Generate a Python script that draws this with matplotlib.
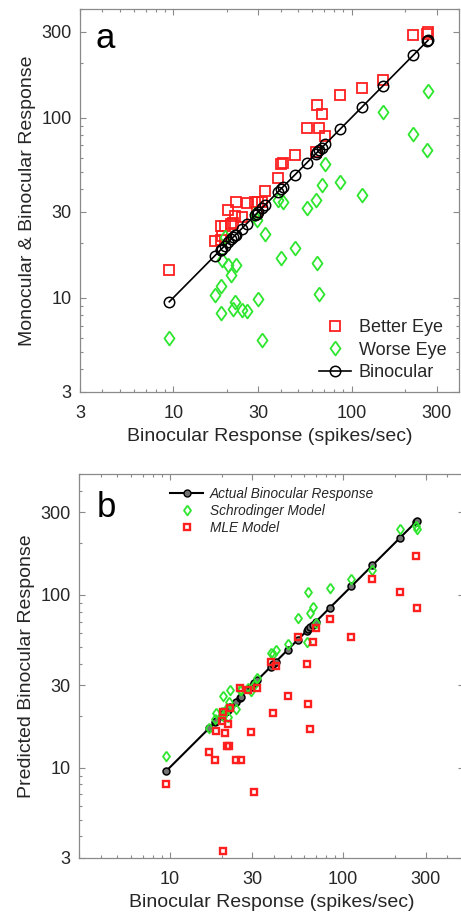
import matplotlib
matplotlib.use("Agg")
import matplotlib.pyplot as plt
import numpy as np
from matplotlib.lines import Line2D
from matplotlib.ticker import FixedLocator, LogLocator, NullFormatter

plt.rcParams['font.family'] = ['Liberation Sans', 'DejaVu Sans']

# panel a: binocular response of each cell and the two monocular responses
bino_a = [268, 265, 221, 150, 114, 86, 71, 68, 66, 64, 63, 56, 48, 41, 40, 38.8,
          32.7, 31.4, 30, 29.3, 28.7, 25.8, 24.2, 22.4, 22.2, 21.7, 21.1, 20.3,
          19.4, 18.7, 18.5, 18.5, 17.1, 9.5]
better_eye = [300, 291, 288, 161, 146, 133, 79, 104, 87, 117, 64, 88, 62, 56, 55, 46,
              39, 34, 34, 30, 34, 33.6, 28, 34, 28.5, 26, 25.8, 30.6,
              25, 22, 25, 21, 20.6, 14.2]
worse_eye = [140, 66, 81, 107, 37, 44, 55, 42, 10.5, 15.5, 35, 31.6, 18.8, 34, 16.6, 35,
             22.7, 5.8, 9.9, 27, 29, 8.4, 8.5, 15.2, 9.5, 8.7, 13.3, 15.2,
             21.7, 16.1, 11.6, 8.2, 10.4, 6.0]

# panel b: model predictions of the binocular response
bino_b = [264, 268, 214, 148, 112, 84, 70, 66.8, 65, 63, 62, 55, 48, 41, 39.6, 38.4,
          32.1, 30.7, 29.3, 28.5, 25.7, 25.4, 24.1, 22.3, 22, 21.6, 21.3, 21, 20.3,
          20.3, 20, 18.6, 18.4, 16.9, 9.5]
schrodinger = [249, 240, 241, 139, 124, 110, 69, 85, 78, 104, 53, 73, 52, 48, 45.7, 46,
               33, 30, 27.7, 29, 28, 28.3, 21.7, 28.3, 24, 19.7, 22, 21, 25.9,
               20, 21, 20.6, 19, 16.9, 11.7]
mle = [168, 84, 104, 124, 57, 72, 64, 53, 16.7, 23.5, 39.7, 57, 26, 38.6, 20.7, 41,
       28.7, 7.2, 16.1, 28, 11, 28.7, 11, 22, 13.3, 18, 13.3, 15.8, 21,
       3.3, 18.6, 16.3, 11, 12.3, 8.0]

ticks = [3, 10, 30, 100, 300]
RED = '#ff1f1f'
GREEN = '#2ee62e'
TXT = '#262626'
SPINE = '#8a8a8a'

# slightly tall diamond like the original
diamond = [(0, 1), (0.72, 0), (0, -1), (-0.72, 0), (0, 1)]


def style_axes(ax, lim, xlabels):
    ax.set_xscale('log')
    ax.set_yscale('log')
    ax.set_xlim(*lim)
    ax.set_ylim(*lim)
    for axis in (ax.xaxis, ax.yaxis):
        axis.set_major_locator(FixedLocator(ticks))
        axis.set_minor_locator(LogLocator(subs=np.arange(2, 10)))
        axis.set_minor_formatter(NullFormatter())
    ax.set_yticklabels([str(t) for t in ticks])
    ax.set_xticklabels(xlabels)
    ax.tick_params(which='both', direction='in', top=True, right=True,
                   color=SPINE, labelcolor=TXT, labelsize=13, width=0.8)
    ax.tick_params(which='major', length=4, pad=6)
    ax.tick_params(axis='x', which='major', pad=9)
    ax.tick_params(which='minor', length=2.5)
    for s in ax.spines.values():
        s.set_color(SPINE)
        s.set_linewidth(0.9)


fig = plt.figure(figsize=(4.61, 9.17), dpi=100)
W, H = 461, 917
ax_a = fig.add_axes([80 / W, 1 - 392 / H, (459 - 80) / W, (392 - 9) / H])
ax_b = fig.add_axes([79 / W, 1 - 858 / H, (464 - 79) / W, (858 - 474) / H])

# ---- panel a
order = np.argsort(bino_a)
ax_a.plot(bino_a, better_eye, ls='none', marker='s', ms=7.2, mfc='none',
          mec=RED, mew=1.3, label='Better Eye')
ax_a.plot(bino_a, worse_eye, ls='none', marker=diamond, ms=10, mfc='none',
          mec=GREEN, mew=1.3, label='Worse Eye')
ax_a.plot(np.array(bino_a)[order], np.array(bino_a)[order], color='black', lw=1.2,
          marker='o', ms=7.5, mfc='none', mec='black', mew=1.1, label='Binocular')
style_axes(ax_a, (3, 400), [str(t) for t in ticks])
ax_a.set_xlabel('Binocular Response (spikes/sec)', fontsize=14, color=TXT, labelpad=5)
ax_a.set_ylabel('Monocular & Binocular Response', fontsize=14, color=TXT, labelpad=4)
ax_a.text(0.042, 0.898, 'a', transform=ax_a.transAxes, fontsize=25, color='black')
ax_a.legend(loc='lower right', bbox_to_anchor=(0.995, 0.0), frameon=False, fontsize=13,
            handlelength=1.8, handletextpad=0.4, labelspacing=0.3, borderaxespad=0.2,
            labelcolor=TXT)

# ---- panel b
order_b = np.argsort(bino_b)
ax_b.plot(np.array(bino_b)[order_b], np.array(bino_b)[order_b], color='black', lw=1.5,
          marker='o', ms=5, mfc='0.45', mec='black', mew=1.1, zorder=2)
ax_b.plot(bino_b, schrodinger, ls='none', marker=diamond, ms=7, mfc='none',
          mec=GREEN, mew=1.3, zorder=3)
ax_b.plot(bino_b, mle, ls='none', marker='s', ms=5, mfc='none',
          mec=RED, mew=1.7, zorder=3)
style_axes(ax_b, (3, 500), ['', '10', '30', '100', '300'])
ax_b.set_xlabel('Binocular Response (spikes/sec)', fontsize=14, color=TXT, labelpad=5)
ax_b.set_ylabel('Predicted Binocular Response', fontsize=14, color=TXT, labelpad=4)
ax_b.text(0.047, 0.888, 'b', transform=ax_b.transAxes, fontsize=25, color='black')
handles = [
    Line2D([], [], color='black', lw=1.5, marker='o', ms=5, mfc='0.45', mec='black'),
    Line2D([], [], ls='none', marker=diamond, ms=7, mfc='none', mec=GREEN, mew=1.3),
    Line2D([], [], ls='none', marker='s', ms=5, mfc='none', mec=RED, mew=1.7),
]
ax_b.legend(handles, ['Actual Binocular Response', 'Schrodinger Model', 'MLE Model'],
            loc='upper left', bbox_to_anchor=(0.205, 0.998), frameon=False,
            prop={'style': 'italic', 'size': 9.8}, handlelength=2.4,
            handletextpad=0.5, labelspacing=0.22, labelcolor=TXT)

fig.savefig('out.png', dpi=100)
